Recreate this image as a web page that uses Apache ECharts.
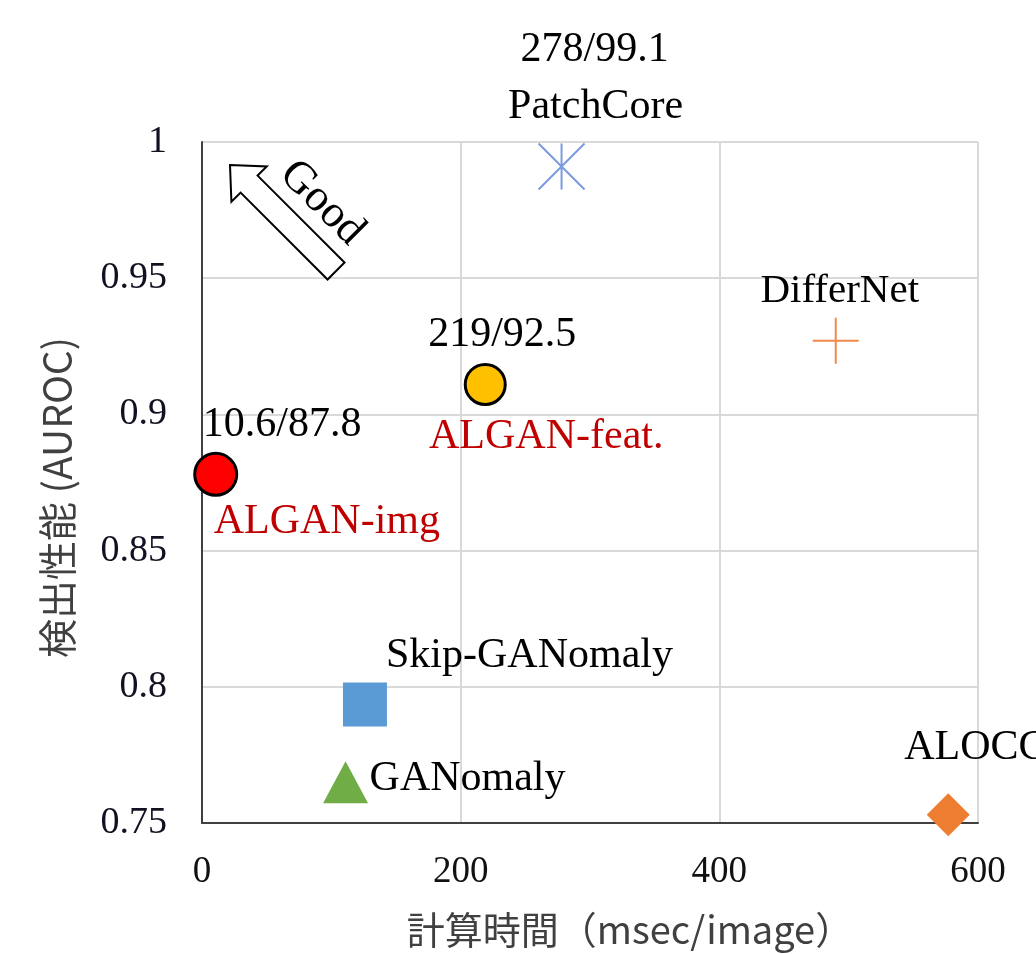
<!DOCTYPE html>
<html>
<head>
<meta charset="utf-8">
<script src="https://cdn.jsdelivr.net/npm/echarts@6/dist/echarts.min.js"></script>
<style>
  html, body { margin: 0; padding: 0; background: #ffffff; }
  #chart { width: 1036px; height: 954px; }
</style>
</head>
<body>
<div id="chart"></div>
<script>
// ---- data ----
const methods = ['ALGAN-img', 'ALGAN-feat.', 'PatchCore', 'DifferNet', 'Skip-GANomaly', 'GANomaly', 'ALOCC'];
const computeTime = [10.6, 219, 278, 490, 126, 111, 577];        // msec/image
const auroc = [0.878, 0.911, 0.991, 0.927, 0.7935, 0.765, 0.753]; // as plotted
const scoreText = ['10.6/87.8', '219/92.5', '278/99.1', '', '', '', ''];
const xAxisRange = { min: 0, max: 600, interval: 200 };
const yAxisRange = { min: 0.75, max: 1, interval: 0.05 };

// ---- styles (not data) ----
const SERIF = '"Liberation Serif", "Times New Roman", serif';
const SANS = '"Noto Sans CJK JP", "Noto Sans", sans-serif';
const markerStyle = [
  { symbol: 'circle', size: 42, color: '#ff0000', border: '#000000', bw: 3 },
  { symbol: 'circle', size: 40, color: '#ffc000', border: '#000000', bw: 3 },
  { symbol: 'path://M0,0L20,20M20,0L0,20M10,0L10,20', size: 46, color: 'rgba(0,0,0,0)', border: '#7b9be0', bw: 2 },
  { symbol: 'path://M0,10L20,10M10,0L10,20', size: 46, color: 'rgba(0,0,0,0)', border: '#f0894a', bw: 2 },
  { symbol: 'rect', size: 44, color: '#5b9bd5', border: '#5b9bd5', bw: 0 },
  { symbol: 'triangle', size: [45, 42], color: '#70ad47', border: '#70ad47', bw: 0 },
  { symbol: 'diamond', size: 43, color: '#ed7d31', border: '#ed7d31', bw: 0 }
];
const nameLabelStyle = [
  { align: 'left',   offset: [-2, 48],   color: '#c00000', size: 42 },
  { align: 'center', offset: [61, 53],   color: '#c00000', size: 42 },
  { align: 'center', offset: [34, -60],  color: '#000000', size: 42 },
  { align: 'center', offset: [4, -50],   color: '#000000', size: 41 },
  { align: 'left',   offset: [21, -49],  color: '#000000', size: 42 },
  { align: 'left',   offset: [24, -3],   color: '#000000', size: 42 },
  { align: 'left',   offset: [-44, -67], color: '#000000', size: 42 }
];
const scoreLabelStyle = [
  { align: 'left',   offset: [-13, -49],  size: 42 },
  { align: 'center', offset: [17, -49],   size: 42 },
  { align: 'center', offset: [33, -117],  size: 42 },
  null, null, null, null
];

const markerData = methods.map((m, i) => {
  const st = markerStyle[i];
  const ls = scoreLabelStyle[i];
  return {
    name: m,
    value: [computeTime[i], auroc[i]],
    symbol: st.symbol,
    symbolSize: st.size,
    itemStyle: { color: st.color, borderColor: st.border, borderWidth: st.bw, opacity: 1 },
    label: ls ? {
      show: true, formatter: scoreText[i], position: 'inside',
      align: ls.align, verticalAlign: 'middle', offset: ls.offset,
      fontSize: ls.size, fontFamily: SERIF, color: '#000000',
      textBorderWidth: 0, textBorderColor: 'transparent'
    } : { show: false }
  };
});

const nameData = methods.map((m, i) => {
  const ls = nameLabelStyle[i];
  return {
    name: m,
    value: [computeTime[i], auroc[i]],
    label: {
      show: true, formatter: m, position: 'inside',
      align: ls.align, verticalAlign: 'middle', offset: ls.offset,
      fontSize: ls.size, fontFamily: SERIF, color: ls.color,
      textBorderWidth: 0, textBorderColor: 'transparent', opacity: 1
    }
  };
});

const chart = echarts.init(document.getElementById('chart'), null, { renderer: 'canvas' });
chart.setOption({
  backgroundColor: '#ffffff',
  animation: false,
  grid: { left: 202, right: 58, top: 142, bottom: 131, containLabel: false },
  xAxis: {
    type: 'value',
    min: xAxisRange.min, max: xAxisRange.max, interval: xAxisRange.interval,
    name: '計算時間（msec/image）',
    nameLocation: 'middle', nameGap: 88,
    nameTextStyle: { fontFamily: SANS, fontSize: 38, color: '#404040', padding: [0, 0, 0, 80] },
    axisLine: { show: true, onZero: false, lineStyle: { color: '#404040', width: 2 } },
    axisTick: { show: false },
    axisLabel: { margin: 31, fontFamily: SERIF, fontSize: 37, color: '#111111' },
    splitLine: { show: true, lineStyle: { color: '#d9d9d9', width: 2 } }
  },
  yAxis: {
    type: 'value',
    min: yAxisRange.min, max: yAxisRange.max, interval: yAxisRange.interval,
    name: '検出性能 (AUROC)',
    nameLocation: 'middle', nameGap: 125, nameRotate: 90,
    nameTextStyle: { fontFamily: SANS, fontSize: 39, color: '#404040', padding: [0, 30, 0, 0] },
    axisLine: { show: true, onZero: false, lineStyle: { color: '#404040', width: 2 } },
    axisTick: { show: false },
    axisLabel: { margin: 35, fontFamily: SERIF, fontSize: 38, color: '#111122' },
    splitLine: { show: true, lineStyle: { color: '#d9d9d9', width: 2 } }
  },
  graphic: [
    {
      type: 'polygon', x: 230, y: 165, rotation: Math.PI / 4, z: 100,
      shape: { points: [[0, 0], [25, 27], [12, 27], [12, 150], [-12, 150], [-12, 27], [-25, 27]] },
      style: { fill: '#ffffff', stroke: '#000000', lineWidth: 2 }
    },
    {
      type: 'text', x: 322, y: 203, rotation: -Math.PI / 4, z: 100,
      style: { text: 'Good', fontFamily: SERIF, fontSize: 45, fill: '#000000', align: 'center', verticalAlign: 'middle' }
    }
  ],
  series: [
    {
      type: 'scatter', name: 'methods', clip: false, z: 3,
      data: markerData
    },
    {
      type: 'scatter', name: 'names', clip: false, z: 4,
      symbol: 'circle', symbolSize: 1,
      itemStyle: { color: '#ffffff', opacity: 0 },
      emphasis: { disabled: true },
      data: nameData
    }
  ]
});
</script>
</body>
</html>
